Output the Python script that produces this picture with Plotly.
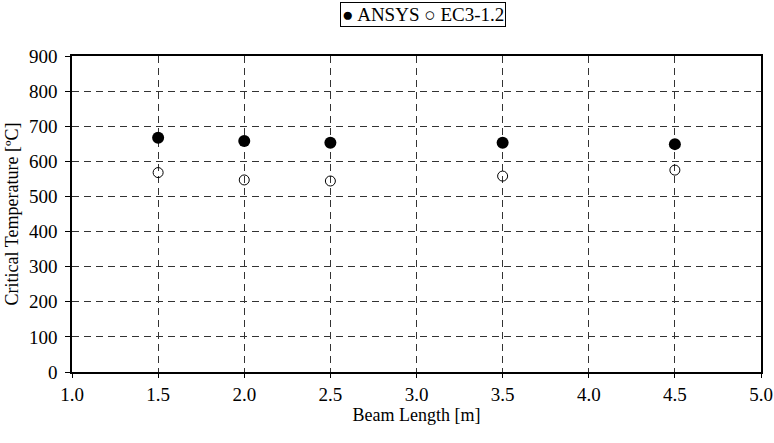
import plotly.graph_objects as go

beam_length = [1.5, 2.0, 2.5, 3.5, 4.5]
ansys = [667, 658, 653, 653, 649]
ec3 = [568, 547, 544, 558, 575]
x_ticks = [1.0, 1.5, 2.0, 2.5, 3.0, 3.5, 4.0, 4.5, 5.0]
y_ticks = [0, 100, 200, 300, 400, 500, 600, 700, 800, 900]
series_names = ["ANSYS", "EC3-1.2"]

font = "Liberation Serif"
tfont = dict(family=font, size=18, color="black")
kfont = dict(family=font, size=19, color="black")

fig = go.Figure()
fig.add_trace(go.Scatter(x=beam_length, y=ansys, mode="markers", name=series_names[0],
                         marker=dict(symbol="circle", size=12, color="black")))
fig.add_trace(go.Scatter(x=beam_length, y=ec3, mode="markers", name=series_names[1],
                         marker=dict(symbol="circle-open", size=10, color="black",
                                     line=dict(width=1, color="black"))))

# legend drawn as a boxed text line, like the original
fig.add_annotation(
    x=0.509, y=1.13, xref="paper", yref="paper", xanchor="center", yanchor="middle",
    text=f"● {series_names[0]} ○ {series_names[1]}", showarrow=False,
    font=kfont, bordercolor="black", borderwidth=1, borderpad=1, bgcolor="white")

fig.update_layout(
    width=774, height=443,
    margin=dict(l=72, r=13, t=56, b=71, autoexpand=False),
    paper_bgcolor="white", plot_bgcolor="white",
    font=tfont,
    showlegend=False,
    xaxis=dict(range=[1.0, 5.0], tickvals=x_ticks,
               ticktext=[f"{v:.1f}" for v in x_ticks], tickfont=kfont,
               showgrid=True, gridcolor="#333333", griddash="7px,5px", gridwidth=1,
               showline=True, linecolor="black", linewidth=1.5, mirror=True,
               ticks="outside", ticklen=4, tickcolor="black",
               zeroline=False, automargin=False,
               title=dict(text="Beam Length [m]", font=tfont, standoff=3)),
    yaxis=dict(range=[0, 900], tickvals=y_ticks, tickfont=kfont,
               showgrid=True, gridcolor="#333333", griddash="7px,5px", gridwidth=1,
               showline=True, linecolor="black", linewidth=1.5, mirror=True,
               ticks="outside", ticklen=5, tickcolor="black", ticklabelstandoff=4,
               zeroline=False, automargin=False,
               title=dict(text="Critical Temperature [ºC]", font=tfont, standoff=6)),
)

fig.write_html("out.html", config={"displayModeBar": False},
               post_script="document.body.style.margin='0';document.body.style.overflow='hidden';")
